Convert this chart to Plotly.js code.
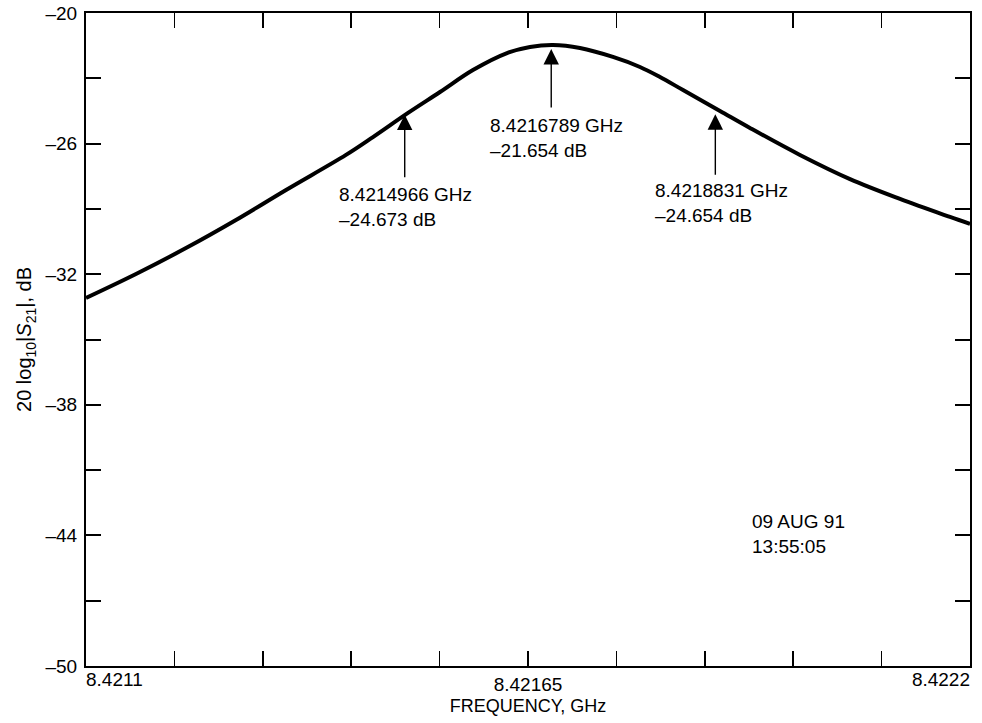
<!DOCTYPE html>
<html>
<head>
<meta charset="utf-8">
<script src="https://cdn.plot.ly/plotly-3.0.1.min.js"></script>
<style>html,body{margin:0;padding:0;background:#fff;}#chart{width:982px;height:723px;}</style>
</head>
<body>
<div id="chart"></div>
<script>
// Curve
var freqGHz = [8.4211000, 8.4211622, 8.4212244, 8.4212866, 8.4213489, 8.4214235, 8.4214571,
               8.4215007, 8.4215405, 8.4215815, 8.4216239, 8.4216525, 8.4216811, 8.4217147,
               8.4217557, 8.4217893, 8.4218142, 8.4218429, 8.4218889, 8.4219262, 8.4219884,
               8.4220507, 8.4221129, 8.4221751, 8.4222000];
var s21dB   = [-33.09, -31.99, -30.80, -29.51, -28.13, -26.52, -25.70,
               -24.59, -23.63, -22.62, -21.84, -21.56, -21.47, -21.61,
               -22.02, -22.48, -22.94, -23.54, -24.50, -25.28, -26.52,
               -27.63, -28.54, -29.37, -29.69];

// Markers
var markerFreq = [8.4214966, 8.4216789, 8.4218831];
var markerDB   = [-24.673, -21.654, -24.654];
var markerText = ["8.4214966 GHz<br>\u201324.673 dB", "8.4216789 GHz<br>\u201321.654 dB", "8.4218831 GHz<br>\u201324.654 dB"];
var stampText  = "09 AUG 91<br>13:55:05";

// Axes
var xTickVals = [8.4211, 8.42121, 8.42132, 8.42143, 8.42154, 8.42165, 8.42176, 8.42187, 8.42198, 8.42209, 8.4222];
var xTickText = ["", "", "", "", "", "8.42165", "", "", "", "", ""];
var xEndLeft = "8.4211", xEndRight = "8.4222";
var yTickVals = [-50, -47, -44, -41, -38, -35, -32, -29, -26, -23, -20];
var yTickText = ["\u201350", "", "\u201344", "", "\u201338", "", "\u201332", "", "\u201326", "", "\u201320"];

var FONT = '"Liberation Sans", Arial, Helvetica, sans-serif';

var traces = [{
  x: freqGHz, y: s21dB, type: 'scatter', mode: 'lines',
  line: {color: '#000', width: 4, shape: 'spline', smoothing: 1},
  hoverinfo: 'skip', showlegend: false
}];

var annotations = [];
var arrowAy = [64, 60, 62];
var textPos = [[0.284, 0.741], [0.455, 0.847], [0.641, 0.747]];
for (var i = 0; i < markerFreq.length; i++) {
  annotations.push({
    x: markerFreq[i], y: markerDB[i], xref: 'x', yref: 'y', text: '',
    showarrow: true, arrowhead: 2, arrowsize: 2.2, arrowwidth: 1.4, arrowcolor: '#000',
    ax: 0, ay: arrowAy[i], standoff: 0
  });
  annotations.push({
    x: textPos[i][0], y: textPos[i][1], xref: 'paper', yref: 'paper',
    xanchor: 'left', yanchor: 'top', align: 'left', showarrow: false,
    text: markerText[i], font: {family: FONT, size: 19, color: '#000'}
  });
}
annotations.push({
  x: 0.751, y: 0.241, xref: 'paper', yref: 'paper', xanchor: 'left', yanchor: 'top',
  align: 'left', showarrow: false, text: stampText,
  font: {family: FONT, size: 19, color: '#000'}
});

var layout = {
  width: 982, height: 723,
  margin: {l: 86, r: 12, t: 13, b: 57},
  paper_bgcolor: '#fff', plot_bgcolor: '#fff',
  font: {family: FONT, size: 19, color: '#000'},
  showlegend: false,
  xaxis: {
    range: [8.4211, 8.4222], tickmode: 'array', tickvals: xTickVals, ticktext: xTickText,
    ticks: 'inside', ticklen: 15, tickwidth: 1.5, tickcolor: '#000',
    showline: true, linecolor: '#000', linewidth: 2, mirror: 'ticks',
    showgrid: false, zeroline: false, tickfont: {family: FONT, size: 19},
    ticklabelstandoff: 0,
    title: {text: 'FREQUENCY, GHz', font: {family: FONT, size: 18}, standoff: 6}
  },
  xaxis2: {
    range: [8.4211, 8.4222], overlaying: 'x', anchor: 'y', side: 'bottom',
    tickmode: 'array', tickvals: [8.4211], ticktext: [xEndLeft],
    ticklabelposition: 'outside right', ticks: '', showline: false, showgrid: false, zeroline: false,
    tickfont: {family: FONT, size: 19}, ticklabelstandoff: 0
  },
  xaxis3: {
    range: [8.4211, 8.4222], overlaying: 'x', anchor: 'y', side: 'bottom',
    tickmode: 'array', tickvals: [8.4222], ticktext: [xEndRight],
    ticklabelposition: 'outside left', ticks: '', showline: false, showgrid: false, zeroline: false,
    tickfont: {family: FONT, size: 19}, ticklabelstandoff: 0
  },
  yaxis: {
    range: [-50, -20], tickmode: 'array', tickvals: yTickVals, ticktext: yTickText,
    ticks: 'inside', ticklen: 15, tickwidth: 2, tickcolor: '#000',
    showline: true, linecolor: '#000', linewidth: 2, mirror: 'ticks',
    showgrid: false, zeroline: false, tickfont: {family: FONT, size: 19},
    ticklabelstandoff: 3,
    title: {text: '20 log<sub>10</sub>|<i>S</i><sub>21</sub>|, dB', font: {family: FONT, size: 20}, standoff: 8}
  },
  annotations: annotations
};

traces.push({x: [8.4211], y: [-60], xaxis: 'x2', yaxis: 'y', mode: 'markers', hoverinfo: 'skip', showlegend: false, marker: {opacity: 0}});
traces.push({x: [8.4222], y: [-60], xaxis: 'x3', yaxis: 'y', mode: 'markers', hoverinfo: 'skip', showlegend: false, marker: {opacity: 0}});

Plotly.newPlot('chart', traces, layout, {displayModeBar: false, staticPlot: true});
</script>
</body>
</html>
